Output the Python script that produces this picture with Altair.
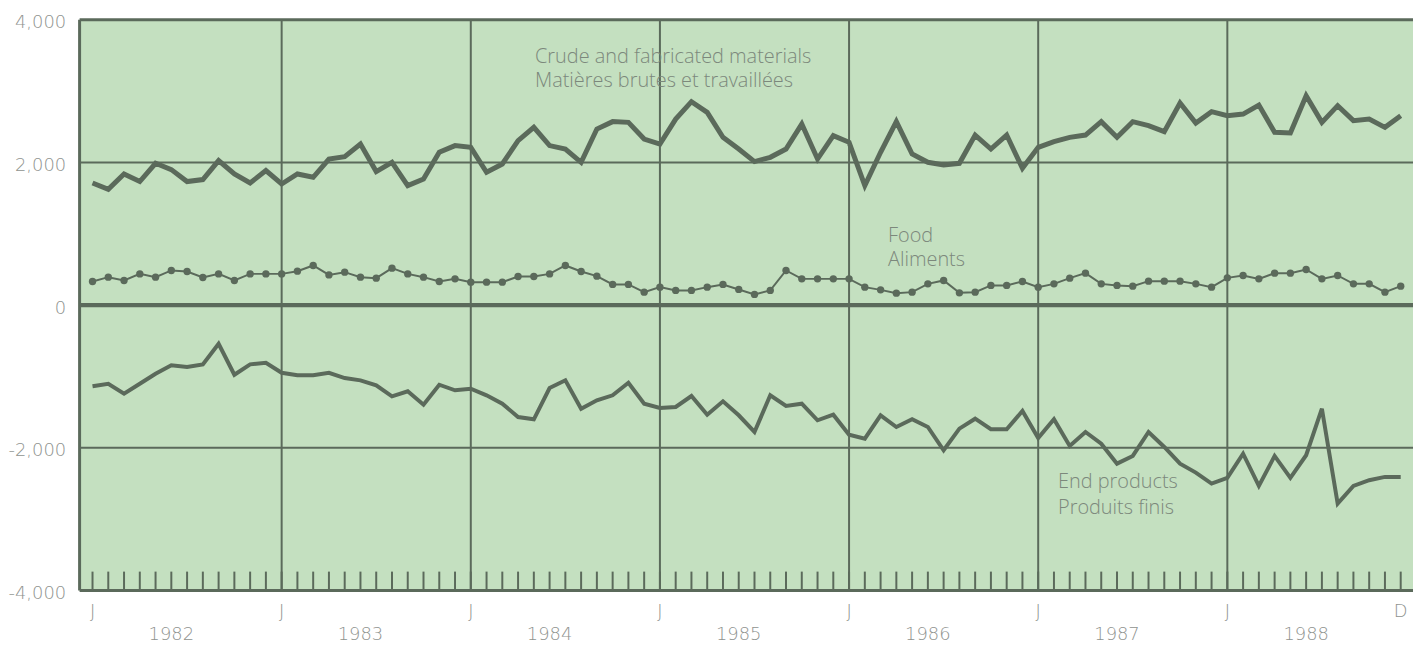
import altair as alt
import pandas as pd

# ---- data (monthly, Jan 1982 .. Dec 1988), index 0..83 ----
months = list(range(84))

crude = [1712, 1624, 1838, 1732, 1988, 1900, 1732, 1760, 2026, 1838, 1712, 1886,
         1698, 1838, 1792, 2048, 2082, 2258, 1872, 2002, 1676, 1768, 2142, 2236,
         2212, 1862, 1978, 2306, 2492, 2236, 2188, 2002, 2468, 2572, 2562, 2328,
         2258, 2608, 2852, 2702, 2352, 2188, 2012, 2072, 2188, 2538, 2048, 2376,
         2282, 1676, 2142, 2572, 2118, 2002, 1964, 1988, 2384, 2188, 2384, 1918,
         2212, 2292, 2352, 2384, 2572, 2352, 2572, 2516, 2432, 2832, 2552, 2712,
         2656, 2678, 2804, 2422, 2412, 2936, 2562, 2796, 2586, 2608, 2492, 2656]

food = [332, 392, 346, 438, 392, 486, 472, 388, 438, 346, 438, 438,
        438, 476, 556, 424, 462, 392, 378, 518, 438, 392, 332, 368,
        322, 322, 322, 402, 402, 438, 556, 472, 406, 290, 290, 182,
        252, 206, 206, 252, 290, 220, 150, 206, 486, 368, 368, 368,
        368, 252, 214, 168, 182, 298, 346, 172, 182, 276, 276, 332,
        252, 298, 378, 448, 298, 276, 266, 336, 336, 336, 298, 252,
        382, 416, 368, 448, 448, 500, 368, 416, 298, 298, 182, 266]

end_products = [-1138, -1102, -1242, -1102, -962, -844, -868, -830, -542, -976, -830, -808,
                -948, -984, -984, -948, -1022, -1054, -1124, -1278, -1208, -1396, -1116, -1194,
                -1172, -1264, -1382, -1568, -1600, -1162, -1054, -1452, -1334, -1264, -1088, -1382,
                -1442, -1428, -1274, -1536, -1348, -1544, -1778, -1264, -1414, -1382, -1614, -1536,
                -1815, -1871, -1544, -1708, -1600, -1708, -2034, -1732, -1592, -1740, -1740, -1484,
                -1862, -1600, -1974, -1778, -1942, -2222, -2114, -1778, -1988, -2222, -2348, -2502,
                -2422, -2082, -2534, -2114, -2422, -2104, -1452, -2782, -2534, -2454, -2408, -2408]

years = [1982, 1983, 1984, 1985, 1986, 1987, 1988]
year_starts = [0, 12, 24, 36, 48, 60, 72]
month_letters = ["J"] * 7 + ["D"]
month_letter_pos = year_starts + [83]
hgrid = [2000, -2000]
y_ticks = [-4000, -2000, 0, 2000, 4000]

# ---- styling ----
GREEN = "#c4e0c0"
DARK = "#5b6a5b"
LABEL = "#8f938f"
ANNOT = "#7c887c"
FONT = "DejaVu Sans"
AFONT = "Open Sans"

xscale = alt.Scale(domain=[-0.82, 83.78], nice=False, zero=False)
yscale = alt.Scale(domain=[-4000, 4000], nice=False, zero=False)
yaxis = alt.Axis(values=y_ticks, ticks=False, domain=False, grid=False,
                 labelExpr="datum.value == 0 ? '0' : (datum.value < 0 ? '-' : '') + format(abs(datum.value), ',')",
                 labelFont=FONT, labelFontSize=18, labelColor=LABEL, labelFontWeight=300,
                 labelPadding=14, labelOffset=3, labelOverlap=False, title=None)


def X(field="month"):
    return alt.X(f"{field}:Q", scale=xscale, axis=None)


def Y(field="value"):
    return alt.Y(f"{field}:Q", scale=yscale, axis=yaxis)


df_crude = pd.DataFrame({"month": months, "value": crude})
df_food = pd.DataFrame({"month": months, "value": food})
df_end = pd.DataFrame({"month": months, "value": end_products})
df_h = pd.DataFrame({"value": hgrid})
df_zero = pd.DataFrame({"value": [0]})
df_vy = pd.DataFrame({"month": year_starts[1:]})
df_ticks = pd.DataFrame({"month": months})
df_letters = pd.DataFrame({"month": month_letter_pos, "label": month_letters})
df_years = pd.DataFrame({"year": years})
one = alt.Data(values=[{"a": 1}])

grid_h = alt.Chart(df_h).mark_rule(color=DARK, strokeWidth=2).encode(y=Y())
zero_line = alt.Chart(df_zero).mark_rule(color=DARK, strokeWidth=4.5).encode(y=Y())
grid_v = alt.Chart(df_vy).mark_rule(color=DARK, strokeWidth=2).encode(x=X())
month_ticks = alt.Chart(df_ticks).mark_rule(color=DARK, strokeWidth=2).encode(
    x=X(), y=alt.value(555), y2=alt.value(574))

border_top = alt.Chart(one).mark_rule(color=DARK, strokeWidth=3).encode(y=alt.value(0))
border_bottom = alt.Chart(one).mark_rule(color=DARK, strokeWidth=3).encode(y=alt.value(574))
border_left = alt.Chart(one).mark_rule(color=DARK, strokeWidth=3).encode(x=alt.value(0))

line_crude = alt.Chart(df_crude).mark_line(color=DARK, strokeWidth=5, strokeJoin="miter").encode(x=X(), y=Y())
line_food = alt.Chart(df_food).mark_line(color=DARK, strokeWidth=2).encode(x=X(), y=Y())
pts_food = alt.Chart(df_food).mark_circle(color=DARK, size=55, opacity=1).encode(x=X(), y=Y())
line_end = alt.Chart(df_end).mark_line(color=DARK, strokeWidth=4).encode(x=X(), y=Y())


def annot(text, px, py):
    return alt.Chart(one).mark_text(text=text, font=AFONT, fontSize=20, fontWeight=300, color=ANNOT,
                                    align="left", baseline="middle").encode(
        x=alt.value(px), y=alt.value(py))


annots = [
    annot("Crude and fabricated materials", 458, 37),
    annot("Matières brutes et travaillées", 458, 62),
    annot("Food", 813, 218),
    annot("Aliments", 813, 242),
    annot("End products", 984, 465),
    annot("Produits finis", 984, 491),
]

letters = alt.Chart(df_letters).mark_text(font=FONT, fontSize=18, fontWeight=300, color=LABEL,
                                          align="center", baseline="middle").encode(
    x=X(), y=alt.value(596), text="label:N")

year_labels = alt.Chart(df_years).transform_calculate(
    month="(datum.year - 1982) * 12 + 5"
).mark_text(font=FONT, fontSize=18, fontWeight=300, color=LABEL, align="center", baseline="middle").encode(
    x=X(), y=alt.value(619), text="year:N")

chart = alt.layer(
    grid_h, grid_v, month_ticks, zero_line,
    border_top, border_bottom, border_left,
    line_end, line_food, pts_food, line_crude,
    *annots, letters, year_labels,
).properties(
    width=1341, height=574,
    autosize=alt.AutoSizeParams(type="none"),
    padding={"left": 72, "top": 10, "right": 0, "bottom": 55},
    background="white",
).configure_view(fill=GREEN, stroke=None)

chart.save("out.html", embed_options={"renderer": "svg", "actions": False})
